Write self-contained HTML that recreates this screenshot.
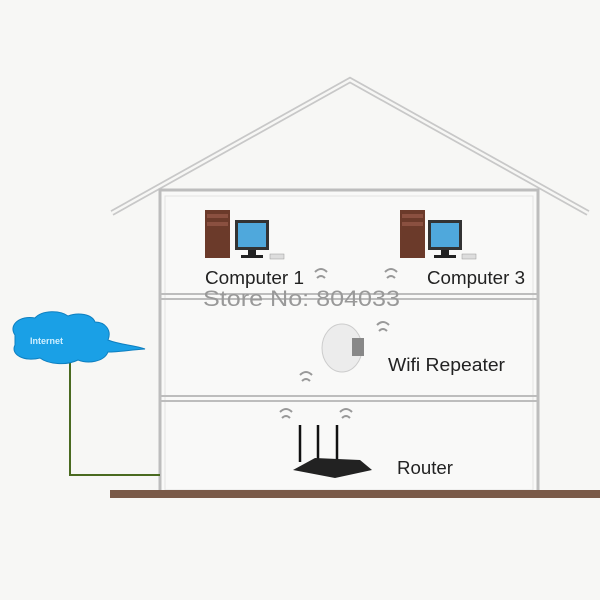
<!DOCTYPE html>
<html><head><meta charset="utf-8"><style>
body{margin:0;background:#f7f7f5;}
svg{display:block}
text{font-family:"Liberation Sans",sans-serif;}
</style></head><body>
<svg width="600" height="600" viewBox="0 0 600 600">
<rect width="600" height="600" fill="#f7f7f5"/>
<polyline points="112,213 350,80 588,213" fill="none" stroke="#c8c8c8" stroke-width="6"/>
<polyline points="112,213 350,80 588,213" fill="none" stroke="#f7f7f5" stroke-width="2.5"/>
<rect x="160" y="190" width="378" height="302" fill="#f9f9f8" stroke="#bdbdbd" stroke-width="3"/>
<rect x="165" y="196" width="368" height="294" fill="none" stroke="#e2e2e2" stroke-width="1"/>
<g stroke="#bdbdbd" stroke-width="2">
<line x1="160" y1="294" x2="538" y2="294"/><line x1="160" y1="299" x2="538" y2="299"/>
<line x1="160" y1="396" x2="538" y2="396"/><line x1="160" y1="401" x2="538" y2="401"/>
</g>
<rect x="110" y="490" width="490" height="8" fill="#7a5a48"/>
<polyline points="70,362 70,475 160,475" fill="none" stroke="#4a6a20" stroke-width="2"/>
<path d="M15,335 C8,325 20,315 35,318 C42,310 60,310 68,316 C78,312 92,314 95,322 C105,322 112,330 108,340 C120,345 135,345 145,349 C130,350 118,352 108,352 C104,362 88,364 78,360 C66,366 48,364 40,358 C25,362 10,355 15,345 Z" fill="#1aa0e6" stroke="#0d7fc0" stroke-width="1"/>
<text x="30" y="344" font-size="9" fill="#cfefff" font-weight="bold">Internet</text>
<g transform="translate(205,210)">
<rect x="0" y="0" width="25" height="48" fill="#6b3a2a"/>
<rect x="2" y="4" width="21" height="4" fill="#8a5040"/>
<rect x="2" y="12" width="21" height="4" fill="#8a5040"/>
<rect x="30" y="10" width="34" height="30" fill="#333"/>
<rect x="33" y="13" width="28" height="24" fill="#4fa8dc"/>
<rect x="43" y="40" width="8" height="6" fill="#222"/>
<rect x="36" y="45" width="22" height="3" fill="#222"/>
<rect x="65" y="44" width="14" height="5" fill="#ddd" stroke="#999" stroke-width=".5"/>
</g>
<g transform="translate(400,210)">
<rect x="0" y="0" width="25" height="48" fill="#6b3a2a"/>
<rect x="2" y="4" width="21" height="4" fill="#8a5040"/>
<rect x="2" y="12" width="21" height="4" fill="#8a5040"/>
<rect x="28" y="10" width="34" height="30" fill="#333"/>
<rect x="31" y="13" width="28" height="24" fill="#4fa8dc"/>
<rect x="41" y="40" width="8" height="6" fill="#222"/>
<rect x="34" y="45" width="22" height="3" fill="#222"/>
<rect x="62" y="44" width="14" height="5" fill="#ddd" stroke="#999" stroke-width=".5"/>
</g>
<g fill="none" stroke="#999" stroke-width="2">
<path d="M315,272 q6,-6 12,0 M317,278 q4,-4 8,0"/>
<path d="M385,272 q6,-6 12,0 M387,278 q4,-4 8,0"/>
<path d="M377,325 q6,-6 12,0 M379,331 q4,-4 8,0"/>
<path d="M300,375 q6,-6 12,0 M302,381 q4,-4 8,0"/>
<path d="M280,412 q6,-6 12,0 M282,418 q4,-4 8,0"/>
<path d="M340,412 q6,-6 12,0 M342,418 q4,-4 8,0"/>
</g>
<ellipse cx="342" cy="348" rx="20" ry="24" fill="#ececec" stroke="#ccc"/>
<rect x="352" y="338" width="12" height="18" fill="#888"/>
<g stroke="#111" stroke-width="2.5">
<line x1="300" y1="425" x2="300" y2="462"/><line x1="318" y1="425" x2="318" y2="460"/><line x1="337" y1="425" x2="337" y2="462"/>
</g>
<path d="M293,470 L315,458 L360,460 L372,470 L335,478 Z" fill="#222"/>
<text x="205" y="284" font-size="18" fill="#222" textLength="99" lengthAdjust="spacingAndGlyphs">Computer 1</text>
<text x="427" y="284" font-size="18" fill="#222" textLength="98" lengthAdjust="spacingAndGlyphs">Computer 3</text>
<text x="203" y="306" font-size="22" fill="#999" textLength="197" lengthAdjust="spacingAndGlyphs">Store No: 804033</text>
<text x="388" y="371" font-size="18" fill="#222" textLength="117" lengthAdjust="spacingAndGlyphs">Wifi Repeater</text>
<text x="397" y="474" font-size="18" fill="#222" textLength="56" lengthAdjust="spacingAndGlyphs">Router</text>
</svg>
</body></html>
